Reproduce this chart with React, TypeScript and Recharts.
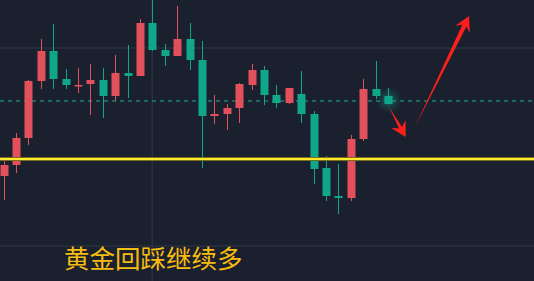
import { Bar, ComposedChart, ReferenceDot, ReferenceLine, XAxis, YAxis } from "recharts";

// 5-minute gold candles, oldest first
const opens = [
  2672.4, 2673.5, 2676.2, 2681.9, 2684.9, 2682.1, 2681.4, 2681.6, 2682.0, 2680.4, 2682.7,
  2682.4, 2687.7, 2685.0, 2684.4, 2686.1, 2684.0, 2678.4, 2678.6, 2679.2, 2681.5, 2683.0,
  2680.5, 2679.7, 2680.6, 2678.6, 2673.2, 2670.4, 2670.2, 2676.1, 2681.1, 2680.4,
];
const closes = [
  2673.5, 2676.2, 2681.9, 2684.9, 2682.1, 2681.5, 2681.5, 2682.0, 2680.4, 2682.7, 2682.4,
  2687.7, 2685.0, 2684.4, 2686.1, 2684.0, 2678.4, 2678.6, 2679.2, 2681.6, 2683.0, 2680.5,
  2679.7, 2681.2, 2678.6, 2673.1, 2670.4, 2670.2, 2676.1, 2681.1, 2680.4, 2679.6,
];
const highs = [
  2673.9, 2676.7, 2682.0, 2686.1, 2687.6, 2683.1, 2683.2, 2683.6, 2683.2, 2684.5, 2685.5,
  2688.1, 2690.0, 2685.6, 2689.4, 2687.7, 2685.9, 2680.5, 2679.6, 2681.7, 2683.6, 2683.4,
  2681.5, 2681.2, 2682.9, 2678.9, 2674.4, 2673.6, 2676.5, 2682.1, 2683.9, 2681.2,
];
const lows = [
  2670.0, 2672.7, 2675.5, 2681.1, 2681.1, 2681.1, 2680.7, 2678.5, 2678.2, 2679.9, 2680.2,
  2682.4, 2684.9, 2683.4, 2684.4, 2683.0, 2673.2, 2677.6, 2677.0, 2677.7, 2681.0, 2679.5,
  2679.2, 2679.6, 2677.7, 2671.6, 2669.9, 2668.6, 2669.9, 2675.9, 2680.1, 2679.6,
];

const supportLevel = 2674.1;
const pivotLevel = 2679.9;
const gridPrices = [2685.2, 2665.4];
const gridSlots = [11.93];

// arrow annotations: [slot, price] from -> to
const arrowPaths = [
  [[33.12, 2677.3], [37.48, 2688.4]],
  [[31.02, 2679.3], [32.37, 2676.3]],
];

const caption = "黄金回踩继续多";

const BG = "#1b202e";
const UP = "#e2505c";
const DOWN = "#0fa68a";
const GRID = "#283041";

const W = 534;
const H = 281;
const X_DOMAIN = [-0.35, 42.72];
const Y_DOMAIN = [2661.9, 2690];

const candles = opens.map((open, i) => ({
  slot: i,
  open,
  close: closes[i],
  high: highs[i],
  low: lows[i],
  range: [lows[i], highs[i]],
}));

function Candle(props: any) {
  const { x, y, width, height, payload } = props;
  const { open, close, high, low } = payload;
  const color = close >= open ? UP : DOWN;
  const top = Math.min(y, y + height);
  const h = Math.abs(height);
  const span = high - low || 1;
  const toY = (v: number) => top + ((high - v) / span) * h;
  const bodyTop = toY(Math.max(open, close));
  const bodyH = Math.max(toY(Math.min(open, close)) - bodyTop, 1.5);
  const cx = Math.floor(x + width / 2) + 0.5;
  return (
    <g>
      <line x1={cx} x2={cx} y1={top} y2={top + h} stroke={color} strokeWidth={1} />
      <rect x={cx - width / 2} y={bodyTop} width={width} height={bodyH} fill={color} />
    </g>
  );
}

function Glow(props: any) {
  const { cx, cy } = props;
  return (
    <g>
      <defs>
        <radialGradient id="lastGlow">
          <stop offset="0%" stopColor="#19d1ab" stopOpacity={0.45} />
          <stop offset="55%" stopColor="#13a88c" stopOpacity={0.2} />
          <stop offset="100%" stopColor="#13a88c" stopOpacity={0} />
        </radialGradient>
      </defs>
      <circle cx={cx} cy={cy} r={13} fill="url(#lastGlow)" />
    </g>
  );
}

function Arrow(props: any) {
  const { x1, y1, x2, y2 } = props;
  const dx = x2 - x1;
  const dy = y2 - y1;
  const len = Math.hypot(dx, dy);
  const ux = dx / len;
  const uy = dy / len;
  const nx = -uy;
  const ny = ux;
  const head = 15;
  const wing = 8.2;
  const shaft = len > 60 ? 2.2 : 1.6;
  const bx = x2 - ux * head;
  const by = y2 - uy * head;
  const mx = x2 - ux * head * 0.7;
  const my = y2 - uy * head * 0.7;
  const pts = [
    [x1, y1],
    [mx + nx * shaft, my + ny * shaft],
    [bx + nx * wing, by + ny * wing],
    [x2, y2],
    [bx - nx * wing, by - ny * wing],
    [mx - nx * shaft, my - ny * shaft],
  ];
  return <polygon points={pts.map((p) => p.join(",")).join(" ")} fill="#ff1f1a" />;
}

const layer = { position: "absolute" as const, left: 0, top: 0 };

export default function App() {
  const margin = { top: 0, right: 0, bottom: 0, left: 0 };
  return (
    <div style={{ ...layer, width: W, height: H, background: BG }}>
      {/* back layer: grid and dashed pivot line, kept under the candles */}
      <div style={layer}>
        <ComposedChart width={W} height={H} data={candles} margin={margin}>
          <XAxis dataKey="slot" type="number" domain={X_DOMAIN} hide allowDataOverflow />
          <YAxis type="number" domain={Y_DOMAIN} hide allowDataOverflow />
          {gridPrices.map((p) => (
            <ReferenceLine key={p} y={p} stroke={GRID} strokeWidth={1.5} />
          ))}
          {gridSlots.map((s) => (
            <ReferenceLine key={s} x={s} stroke={GRID} strokeWidth={1.5} />
          ))}
          <ReferenceLine y={pivotLevel} stroke="#1c7f6d" strokeWidth={1.5} strokeDasharray="4 4" />
          <ReferenceDot x={31} y={2680.0} r={13} shape={Glow} />
        </ComposedChart>
      </div>
      {/* front layer: candles, support line and arrows */}
      <div style={layer}>
        <ComposedChart width={W} height={H} data={candles} margin={margin}>
          <XAxis dataKey="slot" type="number" domain={X_DOMAIN} hide allowDataOverflow />
          <YAxis type="number" domain={Y_DOMAIN} hide allowDataOverflow />
          <Bar dataKey="range" barSize={8} shape={Candle} isAnimationActive={false} />
          <ReferenceLine y={supportLevel} stroke="#77701c" strokeWidth={4} />
          <ReferenceLine y={supportLevel} stroke="#ffea2e" strokeWidth={2} />
          {arrowPaths.map(([a, b], i) => (
            <ReferenceLine
              key={i}
              segment={[
                { x: a[0], y: a[1] },
                { x: b[0], y: b[1] },
              ]}
              shape={Arrow}
            />
          ))}
        </ComposedChart>
      </div>
      <svg width={W} height={H} style={{ ...layer, pointerEvents: "none" }}>
        <text
          x={64}
          y={268}
          fill="#f6bd10"
          fontSize={25.5}
          fontFamily="'Noto Sans CJK SC', sans-serif"
        >
          {caption}
        </text>
      </svg>
    </div>
  );
}
